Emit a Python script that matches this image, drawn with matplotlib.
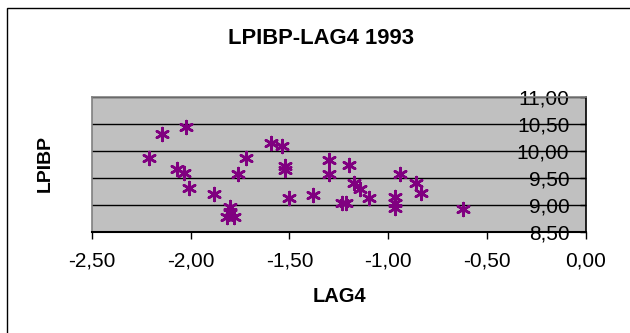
import matplotlib
matplotlib.use("Agg")
import matplotlib.pyplot as plt
from matplotlib.patches import Rectangle

plt.rcParams['font.family'] = ['Liberation Sans', 'DejaVu Sans']

# LAG4 vs LPIBP observations, 1993
lag4 = [-2.209, -2.146, -2.024, -2.071, -2.034, -2.007, -1.879, -1.798, -1.800,
        -1.818, -1.781, -1.759, -1.721, -1.591, -1.535, -1.520, -1.520, -1.504,
        -1.382, -1.300, -1.300, -1.235, -1.215, -1.200, -1.175, -1.141, -1.099,
        -0.965, -0.965, -0.965, -0.943, -0.862, -0.833, -0.623]
lpibp = [9.87, 10.31, 10.43, 9.66, 9.59, 9.31, 9.19, 8.96, 8.86,
         8.77, 8.77, 9.57, 9.87, 10.14, 10.09, 9.72, 9.64, 9.12,
         9.18, 9.83, 9.57, 9.04, 9.03, 9.74, 9.41, 9.30, 9.12,
         9.15, 9.04, 8.93, 9.56, 9.41, 9.21, 8.92]

x_ticks = [-2.5, -2.0, -1.5, -1.0, -0.5, 0.0]
x_tick_labels = ['-2,50', '-2,00', '-1,50', '-1,00', '-0,50', '0,00']
y_ticks = [8.5, 9.0, 9.5, 10.0, 10.5, 11.0]
y_tick_labels = ['8,50', '9,00', '9,50', '10,00', '10,50', '11,00']

W, H = 630, 333
fig = plt.figure(figsize=(W / 100, H / 100), dpi=100)
fig.patch.set_facecolor('white')

# outer chart frame
fig.add_artist(Rectangle((6.5 / W, -0.2), 1.2, 1 - 7.5 / H + 0.2,
                         transform=fig.transFigure, fill=False,
                         edgecolor='black', linewidth=1.0, clip_on=False))

left, right, top, bottom = 91.7, 586.0, 96.7, 231.7
ax = fig.add_axes([left / W, 1 - bottom / H, (right - left) / W, (bottom - top) / H])
ax.set_facecolor('#C0C0C0')

ax.scatter(lag4, lpibp, marker=(6, 2, 0), s=85, color='#800080',
           linewidths=1.9, zorder=3)

ax.set_xlim(-2.5, 0.0)
ax.set_ylim(8.5, 11.0)

ax.set_xticks(x_ticks)
ax.set_xticklabels(x_tick_labels)
ax.set_yticks(y_ticks)
ax.set_yticklabels(y_tick_labels)

ax.yaxis.tick_right()
ax.yaxis.set_label_position('right')
ax.tick_params(axis='y', direction='in', length=4, width=1, pad=-12.0,
               labelsize=15, colors='black')
for t in ax.get_yticklabels():
    t.set_horizontalalignment('right')
ax.tick_params(axis='x', direction='out', length=5, width=1, pad=9.5,
               labelsize=15, colors='black')

ax.grid(axis='y', color='black', linewidth=1.0, zorder=1)
ax.set_axisbelow(True)

ax.spines['top'].set_color('#808080')
ax.spines['left'].set_color('#808080')
ax.spines['top'].set_linewidth(1.2)
ax.spines['left'].set_linewidth(1.2)
ax.spines['bottom'].set_color('black')
ax.spines['bottom'].set_linewidth(1.5)
ax.spines['right'].set_color('black')
ax.spines['right'].set_linewidth(1.2)

fig.text(320.5 / W, 1 - 39 / H, 'LPIBP-LAG4 1993', ha='center', va='center',
         fontsize=15.8, fontweight='bold')
fig.text(339.5 / W, 1 - 296 / H, 'LAG4', ha='center', va='center',
         fontsize=14.5, fontweight='bold')
fig.text(45 / W, 1 - 164 / H, 'LPIBP', ha='center', va='center',
         rotation=90, fontsize=14, fontweight='bold')

fig.savefig('out.png', dpi=100)
